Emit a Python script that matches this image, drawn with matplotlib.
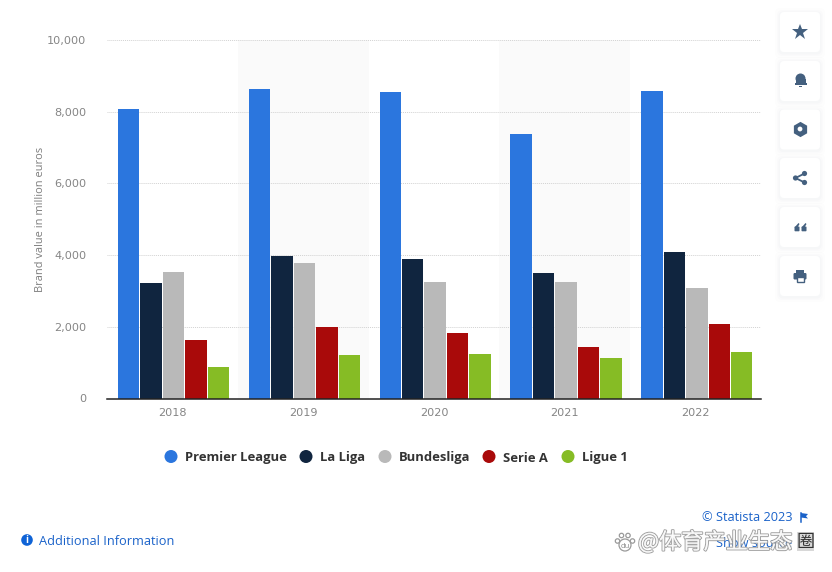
"""
    Brand value of the big five football leagues (Statista screenshot)
"""
import matplotlib
matplotlib.use("Agg")
import matplotlib.pyplot as plt
import matplotlib.patheffects as pe
from matplotlib.patches import FancyBboxPatch, Circle, Rectangle, Polygon
import numpy as np

years = ["2018", "2019", "2020", "2021", "2022"]
premier_league = [8075, 8633, 8550, 7378, 8577]
la_liga = [3222, 3975, 3891, 3500, 4086]
bundesliga = [3515, 3780, 3250, 3250, 3082]
serie_a = [1632, 1994, 1827, 1423, 2078]
ligue_1 = [865, 1213, 1241, 1130, 1297]
leagues = ["Premier League", "La Liga", "Bundesliga", "Serie A", "Ligue 1"]
y_ticks = [0, 2000, 4000, 6000, 8000, 10000]

colors = ["#2b76de", "#10253f", "#b9b9b9", "#a90a0a", "#86bc25"]
W, H = 832, 572
plt.rcParams["font.family"] = ["Open Sans", "DejaVu Sans"]

fig = plt.figure(figsize=(W / 100, H / 100), dpi=100, facecolor="white")
ax = fig.add_axes([107 / W, 1 - 398.5 / H, 654 / W, 358.5 / H])

# bars
series = [premier_league, la_liga, bundesliga, serie_a, ligue_1]
x = np.arange(len(years))
pitch = 22.5 / 131
for k, values in enumerate(series):
    ax.bar(x + (k - 2) * pitch + 1.2 / 131, values, width=21.5 / 131, color=colors[k], zorder=3)

for k in (1, 3):
    ax.axvspan(k - 0.5, k + 0.5, color="#fafafa", lw=0, zorder=0)

ax.set_xlim(-0.5, 4.5)
ax.set_ylim(0, 10000)
ax.set_xticks(x, years)
ax.set_yticks(y_ticks, [f"{v:,}" for v in y_ticks])
ax.grid(axis="y", color="#d2d2d2", lw=0.7, ls=(0, (1, 1)), zorder=1)
ax.tick_params(length=0, labelsize=8.1, labelcolor="#858585")
ax.tick_params(axis="x", pad=7)
ax.tick_params(axis="y", pad=15)
for lab in ax.get_xticklabels() + ax.get_yticklabels():
    lab.set_family("DejaVu Sans")
ax.set_axisbelow(False)
for s in ("top", "left", "right"):
    ax.spines[s].set_visible(False)
ax.spines["bottom"].set_color("#222222")
ax.spines["bottom"].set_linewidth(1.1)
ax.spines["bottom"].set_zorder(5)
fig.text(41 / W, 1 - 219.5 / H, "Brand value in million euros", rotation=90, fontsize=7.9,
         color="#7c7c7c", ha="center", va="center")

# overlay in pixel coordinates for legend, footer and side buttons
ov = fig.add_axes([0, 0, 1, 1], facecolor="none")
ov.set_xlim(0, W)
ov.set_ylim(H, 0)
ov.axis("off")

dot_x = [171, 306, 385, 489, 568]
for name, c, dx in zip(leagues, colors, dot_x):
    ov.add_patch(Circle((dx, 456.5), 6.5, color=c, lw=0))
    ov.text(dx + 14, 461.5, name, fontsize=9.4, fontweight="bold", color="#333333", va="baseline")

# side buttons
icon_c = "#44607f"
button_y = [12, 61, 109.5, 158, 207, 256]
for by in button_y:
    for grow, a in ((5, 0.008), (3, 0.012), (1.5, 0.016)):
        ov.add_patch(FancyBboxPatch((780 - grow, by + 1 - grow), 40 + 2 * grow, 40 + 2 * grow,
                                    boxstyle="round,pad=0,rounding_size=5", fc="#30405a", alpha=a, lw=0))
    ov.add_patch(FancyBboxPatch((780, by), 40, 40, boxstyle="round,pad=0,rounding_size=4",
                                fc="white", lw=0, zorder=3))

ov.plot(800, 32, marker="*", ms=12, color=icon_c, mew=0, zorder=4)
# bell
ov.add_patch(Circle((800.5, 78.5), 5, fc=icon_c, lw=0, zorder=4))
ov.add_patch(Rectangle((795.5, 78.5), 10, 5.5, fc=icon_c, lw=0, zorder=4))
ov.add_patch(Rectangle((794.5, 83), 12, 1.8, fc=icon_c, lw=0, zorder=4))
ov.add_patch(Rectangle((799, 85.5), 3, 1.3, fc=icon_c, lw=0, zorder=4))
# gear
ov.plot(800, 129, marker="h", ms=11, color=icon_c, mew=0, zorder=4)
ov.add_patch(Circle((800, 129), 2.4, fc="white", lw=0, zorder=5))
# share
share_pts = [(804.5, 173.5), (795.5, 178), (804.5, 182.5)]
ov.plot(*zip(*share_pts), color=icon_c, lw=1.3, zorder=4)
for p in share_pts:
    ov.add_patch(Circle(p, 2.6, fc=icon_c, lw=0, zorder=4))
# quote
for qx in (794.5, 801.5):
    ov.add_patch(FancyBboxPatch((qx, 226.5), 5, 4.8, boxstyle="round,pad=0,rounding_size=0.8", fc=icon_c, lw=0, zorder=4))
    ov.add_patch(Polygon([(qx, 227.5), (qx + 4, 223), (qx + 5, 224), (qx + 3, 227.5)], fc=icon_c, lw=0, zorder=4))
# print
ov.add_patch(FancyBboxPatch((793.5, 273), 13, 6.5, boxstyle="round,pad=0,rounding_size=1.2", fc=icon_c, lw=0, zorder=4))
ov.add_patch(Rectangle((796, 269.5), 8, 3.5, fc=icon_c, lw=0, zorder=4))
ov.add_patch(Rectangle((796.5, 276.5), 7, 5, fc="white", ec=icon_c, lw=1, zorder=5))

# footer
blue = "#1a62c9"
ov.add_patch(Circle((27, 540), 5.8, color="#0f63d6", lw=0))
ov.text(27, 540.3, "i", color="white", fontsize=7, fontweight="bold", ha="center", va="center")
ov.text(39, 545, "Additional Information", color=blue, fontsize=9.2, va="baseline")
ov.text(792.5, 521, "© Statista 2023", color=blue, fontsize=9.2, va="baseline", ha="right")
ov.plot([800.5, 800.5], [513, 521.5], color=blue, lw=1.1)
ov.add_patch(Polygon([(801, 513), (808, 514), (806, 516.2), (808, 518.5), (801, 517.5)], fc=blue, lw=0))
ov.text(792, 547, "Show source", color=blue, fontsize=9.2, va="baseline", ha="right")

# watermark over the source link
cjk = ["Noto Sans CJK SC", "DejaVu Sans"]
wm = ov.text(638, 542, "@体育产业生态", fontsize=16, color="white", va="center", family=cjk, zorder=6, alpha=0.75)
wm.set_path_effects([pe.withStroke(linewidth=1.5, foreground="#9a9a9a", alpha=0.9), pe.Normal()])
ov.add_patch(Rectangle((797, 532), 17, 19, fc="#cfcfcf", alpha=0.8, lw=0, zorder=6))
ov.text(805.5, 541.5, "圈", fontsize=13, color="#333333", va="center", ha="center", family=cjk, zorder=7)
# baidu paw
for px, py, r in ((617.5, 541, 2.2), (621.5, 535.5, 2.2), (628, 535.5, 2.2), (632.5, 541, 2.2), (625, 545, 6.0)):
    ov.add_patch(Circle((px, py), r, fc="white", ec="#9a9a9a", lw=0.9, zorder=6))
ov.text(625, 546, "du", fontsize=5.5, color="#8a8a8a", ha="center", va="center", zorder=7)

fig.savefig("out.png", dpi=100)
